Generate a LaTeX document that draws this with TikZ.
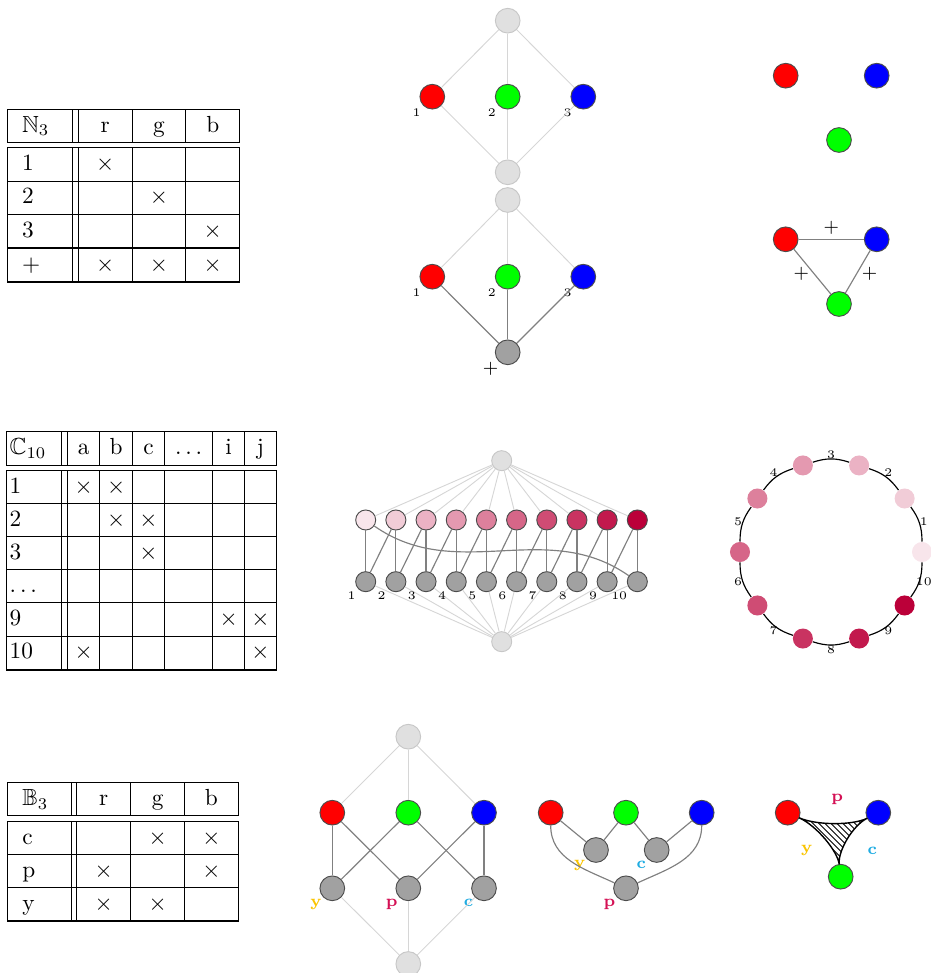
\documentclass[tikz,border=0pt]{standalone}
\usepackage{amssymb}
\usepackage{array}
\usetikzlibrary{calc}
\definecolor{wine}{RGB}{187,0,57}
\definecolor{ylab}{RGB}{250,196,0}
\definecolor{plab}{RGB}{212,16,84}
\definecolor{clab}{RGB}{32,172,226}
\renewcommand{\arraystretch}{1.15}
\newcolumntype{C}[1]{>{\centering\arraybackslash}p{#1}}

\begin{document}
\begin{tikzpicture}[
  x=0.4292pt, y=0.4292pt,
  vtx/.style={circle, draw=black!70, line width=0.4pt, inner sep=0pt, minimum size=10.6pt},
  svtx/.style={vtx, minimum size=8.6pt},
  pale/.style={fill=black!12, draw=black!22},
  obj/.style={fill=black!37},
  faint/.style={draw=black!16, line width=0.4pt},
  link/.style={draw=black!50, line width=0.5pt},
  ringline/.style={draw=black, line width=0.5pt},
  hyper/.style={draw=black, line width=0.6pt},
  hatch/.style={draw=black, line width=0.35pt},
  nlbl/.style={font=\tiny, inner sep=1pt},
  plbl/.style={font=\footnotesize, inner sep=0pt},
  clbl/.style={font=\scriptsize\bfseries, inner sep=0.5pt},
  rlbl/.style={font=\tiny, inner sep=0pt},
  tbl/.style={inner sep=0pt, anchor=north west}
]
\useasboundingbox (0,0) rectangle (931,973);

% tables
\node[tbl] (tabN) at (6.7,864.7) {\setlength{\tabcolsep}{6pt}%
\begin{tabular}{|p{15.5pt}||*{3}{C{10.7pt}|}}
\hline
$\mathbb{N}_3$ & r & g & b \\ \hline\hline
1 & $\times$ & & \\ \hline
2 & & $\times$ & \\ \hline
3 & & & $\times$ \\ \noalign{\hrule height 0.8pt}
$+$ & $\times$ & $\times$ & $\times$ \\ \noalign{\hrule height 0.8pt}
\end{tabular}};

\node[tbl] (tabC) at (6,542) {\setlength{\tabcolsep}{1pt}%
\begin{tabular}{|p{21.2pt}||*{3}{C{11.5pt}|}C{18.2pt}|*{2}{C{11.3pt}|}}
\hline
$\mathbb{C}_{10}$ & a & b & c & $\dots$ & i & j \\ \hline\hline
1 & $\times$ & $\times$ & & & & \\ \hline
2 & & $\times$ & $\times$ & & & \\ \hline
3 & & & $\times$ & & & \\ \hline
$\dots$ & & & & & & \\ \hline
9 & & & & & $\times$ & $\times$ \\ \hline
10 & $\times$ & & & & & $\times$ \\ \noalign{\hrule height 0.8pt}
\end{tabular}};

\node[tbl] (tabB) at (7,191.3) {\setlength{\tabcolsep}{6pt}%
\begin{tabular}{|p{14.8pt}||*{3}{C{10.7pt}|}}
\hline
$\mathbb{B}_3$ & r & g & b \\ \hline\hline
c & & $\times$ & $\times$ \\ \hline
p & $\times$ & & $\times$ \\ \hline
y & $\times$ & $\times$ & \\ \noalign{\hrule height 0.8pt}
\end{tabular}};

% N3 lattices
\node[vtx, pale] (t1top) at (507.7,952.3) {};
\node[vtx, fill=red, label={[nlbl]below left:1}] (t1r) at (432.3,876.3) {};
\node[vtx, fill=green, label={[nlbl]below left:2}] (t1g) at (507.7,876.3) {};
\node[vtx, fill=blue, label={[nlbl]below left:3}] (t1b) at (583.3,876.3) {};
\node[vtx, pale] (t1bot) at (507.7,800.7) {};
\foreach \n in {t1r, t1g, t1b} {
  \draw[faint] (t1top) -- (\n);
  \draw[faint] (\n) -- (t1bot);
}

\node[vtx, pale] (t2top) at (507.7,773) {};
\node[vtx, fill=red, label={[nlbl]below left:1}] (t2r) at (432.3,696.3) {};
\node[vtx, fill=green, label={[nlbl]below left:2}] (t2g) at (507.7,696.3) {};
\node[vtx, fill=blue, label={[nlbl]below left:3}] (t2b) at (583.3,696.3) {};
\node[vtx, obj, label={[plbl]below left:$+$}] (t2sum) at (507.7,620.7) {};
\foreach \n in {t2r, t2g, t2b} {
  \draw[faint] (t2top) -- (\n);
  \draw[link] (\n) -- (t2sum);
}

\node[vtx, fill=red] (s1r) at (785.7,897.3) {};
\node[vtx, fill=blue] (s1b) at (876.7,897.3) {};
\node[vtx, fill=green] (s1g) at (839,833) {};

\node[vtx, fill=red] (s2r) at (785.7,733.7) {};
\node[vtx, fill=blue] (s2b) at (876.7,733.7) {};
\node[vtx, fill=green] (s2g) at (839,669) {};
\draw[link] (s2r) -- node[plbl, above=2pt]{$+$} (s2b);
\draw[link] (s2r) -- node[plbl, pos=.55, left=2pt]{$+$} (s2g);
\draw[link] (s2b) -- node[plbl, pos=.55, right=2pt]{$+$} (s2g);

% C10 lattice
\node[svtx, pale] (mtop) at (501.7,512.3) {};
\node[svtx, pale] (mbot) at (501.7,331.3) {};
\foreach \i [evaluate=\i as \x using 365.7+(\i-1)*30.18,
             evaluate=\i as \s using int(10*\i)] in {1,...,10} {
  \node[svtx, fill=wine!\s] (p\i) at (\x,453) {};
  \node[svtx, obj, label={[nlbl]below left:\i}] (g\i) at (\x,391.3) {};
  \draw[faint] (mtop) -- (p\i);
  \draw[faint] (g\i) -- (mbot);
  \draw[link] (p\i) -- (g\i);
}
\foreach \i [evaluate=\i as \n using int(\i+1)] in {1,...,9}
  \draw[link] (p\n) -- (g\i);
\draw[link] (p1) to[out=-35, in=145] (g10);

% C10 ring
\coordinate (ring) at (831,421);
\foreach \i [evaluate=\i as \s using int(10*\i)] in {1,...,10}
  \node[svtx, draw=none, fill=wine!\s] (c\i) at ($(ring)+({(\i-1)*36}:91)$) {};
\foreach \i [evaluate=\i as \n using {int(mod(\i,10)+1)}] in {1,...,10}
  \draw[ringline] (c\i) to[bend right=18]
    node[rlbl, shift={({(\i-1)*36+18}:4.5)}]{\i} (c\n);

% B3 lattices
\node[vtx, pale] (btop) at (408.3,236.3) {};
\node[vtx, fill=red] (br) at (332.3,160.3) {};
\node[vtx, fill=green] (bg) at (408.3,160.3) {};
\node[vtx, fill=blue] (bb) at (484,160.3) {};
\node[vtx, obj, label={[clbl, text=ylab]below left:y}] (by) at (332.3,84.7) {};
\node[vtx, obj, label={[clbl, text=plab]below left:p}] (bp) at (408.3,84.7) {};
\node[vtx, obj, label={[clbl, text=clab]below left:c}] (bc) at (484,84.7) {};
\node[vtx, pale] (bbot) at (408.3,9) {};
\foreach \n in {br, bg, bb} \draw[faint] (btop) -- (\n);
\foreach \n in {by, bp, bc} \draw[faint] (\n) -- (bbot);
\draw[link] (br) -- (by);
\draw[link] (br) -- (bp);
\draw[link] (bg) -- (by);
\draw[link] (bg) -- (bc);
\draw[link] (bb) -- (bp);
\draw[link] (bb) -- (bc);

\node[vtx, fill=red] (cr) at (550.7,160.3) {};
\node[vtx, fill=green] (cg) at (626,160.3) {};
\node[vtx, fill=blue] (cb) at (701.7,160.3) {};
\node[vtx, obj, label={[clbl, text=ylab]below left:y}] (cy) at (596,123) {};
\node[vtx, obj, label={[clbl, text=clab]below left:c}] (cc) at (656.7,123) {};
\node[vtx, obj, label={[clbl, text=plab]below left:p}] (cp) at (626,84.7) {};
\draw[link] (cr) -- (cy);
\draw[link] (cg) -- (cy);
\draw[link] (cg) -- (cc);
\draw[link] (cb) -- (cc);
\draw[link] (cr) to[out=-90, in=155] (cp);
\draw[link] (cb) to[out=-90, in=25] (cp);

\node[vtx, fill=red] (dr) at (787.7,160.3) {};
\node[vtx, fill=blue] (db) at (878.3,160.3) {};
\node[vtx, fill=green] (dg) at (840.7,96.3) {};
\coordinate (dm) at ($(dr)!.5!(db)!1/3!(dg)$);
\coordinate (hr) at ($(dr)!5.3pt!(dm)$);
\coordinate (hb) at ($(db)!5.3pt!(dm)$);
\coordinate (hg) at ($(dg)!5.3pt!(dm)$);
\begin{scope}
  \clip (hr) .. controls ($(dr)!.6!(dm)$) and ($(db)!.6!(dm)$) .. (hb)
    .. controls ($(db)!.6!(dm)$) and ($(dg)!.6!(dm)$) .. (hg)
    .. controls ($(dg)!.6!(dm)$) and ($(dr)!.6!(dm)$) .. (hr) -- cycle;
  \foreach \k in {-10,...,10}
    \draw[hatch] ($(dm)+(\k*6,0)+(-40,40)$) -- ($(dm)+(\k*6,0)+(40,-40)$);
\end{scope}
\draw[hyper] (hr) .. controls ($(dr)!.6!(dm)$) and ($(db)!.6!(dm)$) .. (hb)
  .. controls ($(db)!.6!(dm)$) and ($(dg)!.6!(dm)$) .. (hg)
  .. controls ($(dg)!.6!(dm)$) and ($(dr)!.6!(dm)$) .. (hr) -- cycle;
\node[clbl, text=plab] (dp) at (837.3,174) {p};
\node[clbl, text=ylab] (dy) at (806.7,122) {y};
\node[clbl, text=clab] (dc) at (872.3,122) {c};
\end{tikzpicture}
\end{document}
